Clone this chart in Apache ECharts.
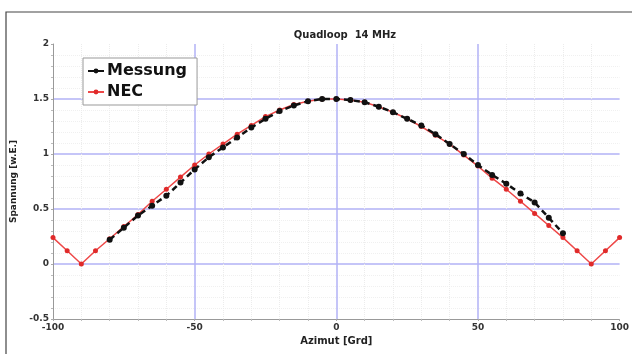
<!DOCTYPE html>
<html><head><meta charset="utf-8">
<script src="https://cdn.jsdelivr.net/npm/echarts@6/dist/echarts.min.js"></script>
<style>html,body{margin:0;padding:0;background:#fff}#c{width:632px;height:354px}</style>
</head><body><div id="c"></div>
<script>
const title = "Quadloop  14 MHz";
const xName = "Azimut [Grd]";
const yName = "Spannung [w.E.]";
const necAz = [-100,-95,-90,-85,-80,-75,-70,-65,-60,-55,-50,-45,-40,-35,-30,-25,-20,-15,-10,-5,0,5,10,15,20,25,30,35,40,45,50,55,60,65,70,75,80,85,90,95,100];
const necVal = [0.24,0.12,0,0.12,0.23,0.34,0.45,0.57,0.68,0.79,0.90,1.00,1.09,1.18,1.26,1.34,1.40,1.45,1.48,1.50,1.50,1.49,1.47,1.43,1.38,1.32,1.25,1.17,1.09,0.99,0.89,0.78,0.68,0.57,0.46,0.35,0.24,0.12,0,0.12,0.24];
const mesAz = [-80,-75,-70,-65,-60,-55,-50,-45,-40,-35,-30,-25,-20,-15,-10,-5,0,5,10,15,20,25,30,35,40,45,50,55,60,65,70,75,80];
const mesVal = [0.22,0.33,0.44,0.53,0.62,0.74,0.86,0.97,1.06,1.15,1.24,1.32,1.39,1.44,1.48,1.50,1.50,1.49,1.47,1.43,1.38,1.32,1.26,1.18,1.09,1.00,0.90,0.81,0.73,0.64,0.56,0.42,0.28];

const chart = echarts.init(document.getElementById('c'), null, {renderer:'canvas'});
const font = '"DejaVu Sans", sans-serif';
chart.setOption({
  backgroundColor:'#fff',
  animation:false,
  title:{text:title,left:340,textAlign:'center',top:25,textStyle:{fontFamily:font,fontSize:10,fontWeight:'bold',color:'#222'}},
  graphic:[{type:'rect',shape:{x:6,y:12,width:640,height:360},style:{fill:'none',stroke:'#444',lineWidth:1.2},silent:true}],
  grid:{left:53,right:7,top:44,bottom:35},
  legend:{left:83,top:58,orient:'vertical',backgroundColor:'#fff',borderColor:'#999',borderWidth:1,padding:[5,10,5,4],itemGap:5,itemWidth:16,itemHeight:6,
    textStyle:{fontFamily:font,fontSize:16,fontWeight:'bold',color:'#111',padding:[0,0,0,-2]},data:['Messung','NEC']},
  xAxis:{type:'value',min:-100,max:100,interval:50,name:xName,nameLocation:'middle',nameGap:14,
    nameTextStyle:{fontFamily:font,fontSize:10,fontWeight:'bold',color:'#222'},
    axisLine:{show:true,onZero:false,lineStyle:{color:'#999'}},
    axisTick:{show:true,length:2,lineStyle:{color:'#aaa'}},
    minorTick:{show:true,splitNumber:5,length:2,lineStyle:{color:'#bbb'}},
    axisLabel:{fontFamily:font,fontSize:9,fontWeight:'bold',color:'#333',margin:4},
    splitLine:{show:true,showMinLine:false,showMaxLine:false,lineStyle:{color:'#b2b2f6',width:1.5}},
    minorSplitLine:{show:true,lineStyle:{color:'#ececec',type:'dotted',width:1}}},
  yAxis:{type:'value',min:-0.5,max:2,interval:0.5,name:yName,nameLocation:'middle',nameGap:29,
    nameTextStyle:{fontFamily:font,fontSize:9,fontWeight:'bold',color:'#222'},
    axisLine:{show:true,onZero:false,lineStyle:{color:'#999'}},
    axisTick:{show:true,length:2,lineStyle:{color:'#aaa'}},
    minorTick:{show:true,splitNumber:5,length:2,lineStyle:{color:'#bbb'}},
    axisLabel:{fontFamily:font,fontSize:9,fontWeight:'bold',color:'#333',margin:4},
    splitLine:{show:true,showMinLine:false,showMaxLine:false,lineStyle:{color:'#b2b2f6',width:1.5}},
    minorSplitLine:{show:true,lineStyle:{color:'#f0f0f0',type:'dotted',width:1}}},
  series:[
    {name:'Messung',type:'line',z:3,data:mesAz.map((a,i)=>[a,mesVal[i]]),symbol:'circle',symbolSize:6,
      itemStyle:{color:'#111'},lineStyle:{color:'#111',width:2.5,type:[6,4]}},
    {name:'NEC',type:'line',z:2,data:necAz.map((a,i)=>[a,necVal[i]]),symbol:'circle',symbolSize:5,
      itemStyle:{color:'#e02a2a'},lineStyle:{color:'#ee4848',width:1.5}}
  ]
});
</script></body></html>
